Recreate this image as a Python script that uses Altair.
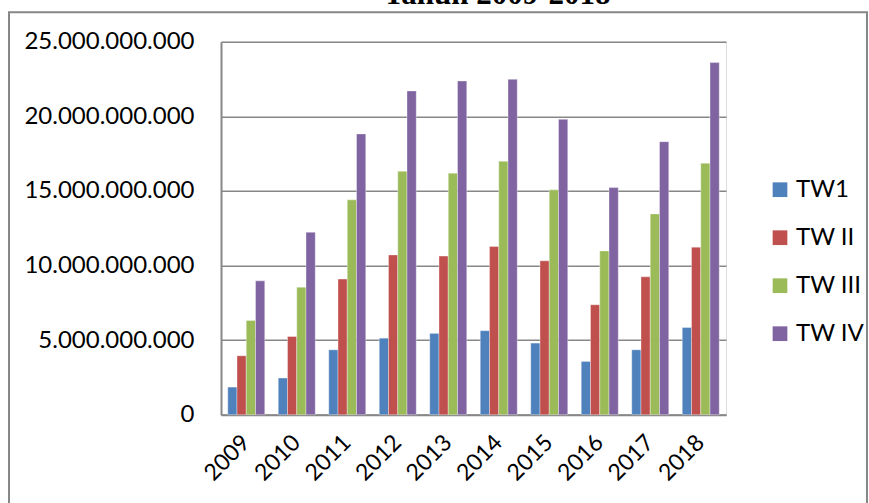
import altair as alt
import pandas as pd

years = ["2009", "2010", "2011", "2012", "2013", "2014", "2015", "2016", "2017", "2018"]
series_names = ["TW1", "TW II", "TW III", "TW IV"]
tw1 = [1.85e9, 2.46e9, 4.35e9, 5.13e9, 5.45e9, 5.63e9, 4.80e9, 3.57e9, 4.35e9, 5.85e9]
tw2 = [3.95e9, 5.24e9, 9.09e9, 10.71e9, 10.63e9, 11.27e9, 10.31e9, 7.37e9, 9.24e9, 11.23e9]
tw3 = [6.32e9, 8.55e9, 14.40e9, 16.32e9, 16.19e9, 16.99e9, 15.07e9, 10.98e9, 13.46e9, 16.86e9]
tw4 = [8.97e9, 12.23e9, 18.82e9, 21.70e9, 22.37e9, 22.48e9, 19.80e9, 15.22e9, 18.30e9, 23.60e9]
colors = ["#4F81BD", "#C0504D", "#9BBB59", "#8064A2"]
y_ticks = [0, 5e9, 10e9, 15e9, 20e9, 25e9]
title_text = "Tahun 2009-2018"

rows = []
for name, vals in zip(series_names, [tw1, tw2, tw3, tw4]):
    for yr, v in zip(years, vals):
        rows.append({"year": yr, "series": name, "value": v})
df = pd.DataFrame(rows)

GRAY = "#878787"
FONT = "Lato"

bars = alt.Chart(df).mark_bar(stroke="white", strokeWidth=0.6, strokeOpacity=0.6).encode(
    x=alt.X("year:O", sort=years,
            scale=alt.Scale(paddingInner=0.267, paddingOuter=0.1335),
            axis=alt.Axis(title=None, labelAngle=-45, labelAlign="right", labelBaseline="middle",
                          labelPadding=24, ticks=False, domainColor=GRAY, domainWidth=2,
                          labelFont=FONT, labelFontSize=23, labelColor="black", grid=False)),
    xOffset=alt.XOffset("series:N", sort=series_names,
                        scale=alt.Scale(paddingInner=0, paddingOuter=0)),
    y=alt.Y("value:Q", scale=alt.Scale(domain=[0, 25e9], nice=False),
            axis=alt.Axis(title=None, values=y_ticks, format=",d", grid=True, gridColor=GRAY,
                          gridWidth=1.5, gridOpacity=1, domainColor=GRAY, domainWidth=2,
                          ticks=False, labelPadding=27, labelFont=FONT, labelFontSize=24,
                          labelColor="black")),
    color=alt.Color("series:N", sort=series_names,
                    scale=alt.Scale(domain=series_names, range=colors),
                    legend=alt.Legend(title=None, orient="none", legendX=547, legendY=136,
                                      symbolType="square", symbolSize=216, symbolStrokeWidth=0,
                                      labelFont=FONT, labelFontSize=24, labelColor="black",
                                      rowPadding=24, labelOffset=4, padding=0)),
)

one = pd.DataFrame({"t": [title_text]})

border = alt.Chart(one).mark_rect(filled=False, stroke=GRAY, strokeWidth=2).encode(
    x=alt.value(-212), x2=alt.value(646), y=alt.value(-29.5), y2=alt.value(700)
)

title = alt.Chart(one).mark_text(font="Liberation Serif", fontWeight="bold", fontSize=31,
                                 align="center", baseline="alphabetic", color="black").encode(
    text="t:N", x=alt.value(276), y=alt.value(-38)
)

chart = alt.layer(border, bars, title).properties(
    width=505, height=373,
    padding={"left": 221, "top": 41.7, "right": 143, "bottom": 88.3},
    autosize=alt.AutoSizeParams(type="none"),
).configure_view(stroke=None).configure(
    locale={"number": {"decimal": ",", "thousands": ".", "grouping": [3], "currency": ["Rp", ""]}}
)

chart.save("out.html", embed_options={"renderer": "svg", "actions": False})
